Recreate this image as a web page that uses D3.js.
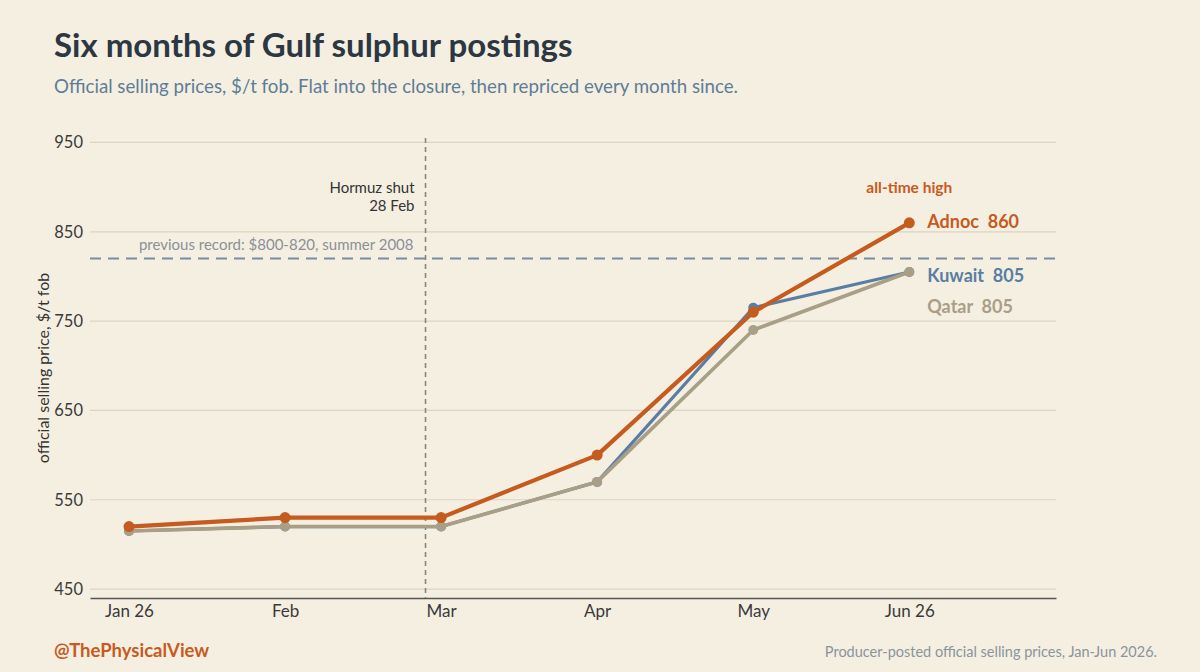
<!DOCTYPE html>
<html lang="en">
<head>
<meta charset="UTF-8">
<title>Gulf sulphur postings</title>
<script src="https://cdn.jsdelivr.net/npm/d3@7"></script>
<style>
  html, body { margin: 0; padding: 0; background: #f5efe2; }
  svg { display: block; font-family: Lato, "Noto Sans", sans-serif; }
</style>
</head>
<body>
<svg></svg>
<script>
  // data
  var months = ["Jan 26", "Feb", "Mar", "Apr", "May", "Jun 26"];
  var adnoc  = [520, 530, 530, 600, 760, 860];
  var kuwait = [515, 520, 520, 570, 765, 805];
  var qatar  = [515, 520, 520, 570, 740, 805];
  var yTicks = [450, 550, 650, 750, 850, 950];
  var previousRecord = 820;
  var closureIndex = 1.9;   // 28 Feb

  var width = 1200, height = 672;
  var margin = {top: 138, right: 144, bottom: 74, left: 90};

  var svg = d3.select("svg").attr("width", width).attr("height", height);
  svg.append("rect").attr("width", width).attr("height", height).attr("fill", "#f5efe2");

  var x = d3.scaleLinear()
      .domain([-0.25, 5.94])
      .range([margin.left, width - margin.right]);
  var y = d3.scaleLinear()
      .domain([440, 955])
      .range([height - margin.bottom, margin.top]);

  // titles
  svg.append("text").attr("x", 54).attr("y", 57)
      .attr("font-size", 33).attr("font-weight", 700).attr("fill", "#2c3742")
      .text("Six months of Gulf sulphur postings");
  svg.append("text").attr("x", 54).attr("y", 93)
      .attr("font-size", 18.7).attr("fill", "#5d7d96")
      .text("Official selling prices, $/t fob. Flat into the closure, then repriced every month since.");

  // grid
  svg.append("g").selectAll("line").data(yTicks).enter().append("line")
      .attr("x1", x.range()[0]).attr("x2", x.range()[1])
      .attr("y1", d => y(d)).attr("y2", d => y(d))
      .attr("stroke", "#ddd4c2").attr("stroke-width", 1.2);

  // y axis labels
  var yAxis = d3.axisLeft(y).tickValues(yTicks).tickSize(0).tickPadding(7);
  var gy = svg.append("g").attr("transform", "translate(" + x.range()[0] + ",0)").call(yAxis);
  gy.select(".domain").remove();
  gy.selectAll("text").attr("font-family", "Lato").attr("font-size", 16.5).attr("fill", "#3a3a3a");

  svg.append("text")
      .attr("transform", "translate(49," + ((margin.top + height - margin.bottom) / 2) + ") rotate(-90)")
      .attr("text-anchor", "middle").attr("font-size", 16).attr("fill", "#333")
      .text("official selling price, $/t fob");

  // x axis
  var xAxis = d3.axisBottom(x).tickValues(d3.range(months.length))
      .tickFormat(i => months[i]).tickSize(0).tickPadding(7);
  var gx = svg.append("g").attr("transform", "translate(0," + y.range()[0] + ")").call(xAxis);
  gx.select(".domain").attr("stroke", "#555").attr("stroke-width", 1.6);
  gx.selectAll("text").attr("font-family", "Lato").attr("font-size", 17).attr("fill", "#3a3a3a");

  // previous record line
  svg.append("line")
      .attr("x1", x.range()[0]).attr("x2", x.range()[1])
      .attr("y1", y(previousRecord)).attr("y2", y(previousRecord))
      .attr("stroke", "#7d8ba0").attr("stroke-width", 2).attr("stroke-dasharray", "11,7");
  svg.append("text").attr("x", x(closureIndex) - 12).attr("y", y(previousRecord) - 9)
      .attr("text-anchor", "end").attr("font-size", 15).attr("fill", "#8b9098")
      .text("previous record: $800-820, summer 2008");

  // closure line
  svg.append("line")
      .attr("x1", x(closureIndex)).attr("x2", x(closureIndex))
      .attr("y1", margin.top).attr("y2", y.range()[0])
      .attr("stroke", "#85877f").attr("stroke-width", 1.6).attr("stroke-dasharray", "5,4");
  var note = svg.append("text").attr("text-anchor", "end").attr("font-size", 15).attr("fill", "#333");
  note.append("tspan").attr("x", x(closureIndex) - 11).attr("y", 193).text("Hormuz shut");
  note.append("tspan").attr("x", x(closureIndex) - 11).attr("y", 211).text("28 Feb");

  // series
  var series = [
    {name: "Kuwait", values: kuwait, color: "#5a7ea3", w: 3.2, r: 5, dy: 9},
    {name: "Qatar",  values: qatar,  color: "#a99e86", w: 3.6, r: 5, dy: 40},
    {name: "Adnoc",  values: adnoc,  color: "#c65b1f", w: 4.2, r: 5.5, dy: 4}
  ];
  var line = d3.line().x((d, i) => x(i)).y(d => y(d));

  series.forEach(function(s) {
    var g = svg.append("g");
    g.append("path").attr("d", line(s.values)).attr("fill", "none")
        .attr("stroke", s.color).attr("stroke-width", s.w).attr("stroke-linejoin", "round");
    g.selectAll("circle").data(s.values).enter().append("circle")
        .attr("cx", (d, i) => x(i)).attr("cy", d => y(d)).attr("r", s.r).attr("fill", s.color);
    var last = s.values[s.values.length - 1];
    g.append("text").attr("x", x(s.values.length - 1) + 18).attr("y", y(last) + s.dy + 1)
        .attr("font-size", 18).attr("font-weight", 700).attr("fill", s.color)
        .text(s.name + "\u00a0\u00a0" + last);
  });

  svg.append("text").attr("x", x(5)).attr("y", 193).attr("text-anchor", "middle")
      .attr("font-size", 15.5).attr("font-weight", 700).attr("fill", "#c65b1f")
      .text("all-time high");

  // footer
  svg.append("text").attr("x", 54).attr("y", 657)
      .attr("font-size", 18.5).attr("font-weight", 700).attr("fill", "#c65b1f")
      .text("@ThePhysicalView");
  svg.append("text").attr("x", 1157).attr("y", 657).attr("text-anchor", "end")
      .attr("font-size", 14.5).attr("fill", "#8a949c")
      .text("Producer-posted official selling prices, Jan-Jun 2026.");
</script>
</body>
</html>
